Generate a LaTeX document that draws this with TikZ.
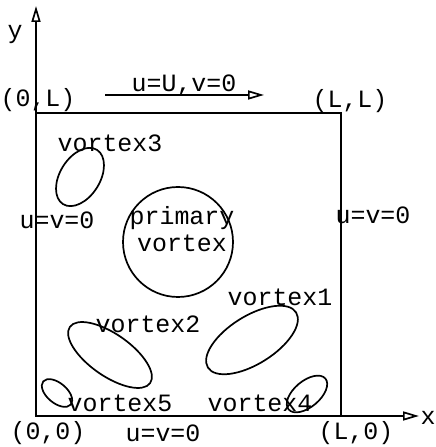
\documentclass[tikz,border=0pt]{standalone}
\usepackage{fontspec}
\setmainfont{Liberation Mono}
\usepackage{tikz}
\usetikzlibrary{arrows.meta}
\usetikzlibrary{positioning}
\tikzset{
    plotline/.style={line width=1.7bp, black},
    openarrow/.style={-{Triangle[open, length=16bp, width=9bp]}},
    plotlabel/.style={inner sep=0pt, font=\fontsize{25}{27}\selectfont},
}

\begin{document}
\begin{tikzpicture}[x=1bp, y=1bp]
        \useasboundingbox (0,0) rectangle (436,447);
        \coordinate (origin) at (36,31);
        \coordinate (topright) at (341,334);
        \coordinate (ytip) at (36,441);
        \coordinate (xtip) at (419,31);
        \coordinate (lidstart) at (105,352);
        \coordinate (lidend) at (264,352);

        % Cavity and axes
        \draw[plotline] (origin) rectangle (topright);
        \draw[plotline, openarrow] (origin) -- (ytip);
        \draw[plotline, openarrow] (origin) -- (xtip);
        \draw[plotline, openarrow] (lidstart) -- (lidend);

        % Vortices: center, radii, tilt
        \coordinate (primaryc) at (178,205);
        \coordinate (vortexAc) at (252,107);
        \coordinate (vortexBc) at (110,92);
        \coordinate (vortexCc) at (80,270);
        \coordinate (vortexDc) at (307,53);
        \coordinate (vortexEc) at (57,54);

        \draw[plotline] (primaryc) circle [radius=55];
        \draw[plotline] (vortexAc) ellipse [x radius=52, y radius=24, rotate=32];
        \draw[plotline] (vortexBc) ellipse [x radius=49, y radius=21, rotate=-35];
        \draw[plotline] (vortexCc) ellipse [x radius=32, y radius=20, rotate=58];
        \draw[plotline] (vortexDc) ellipse [x radius=24, y radius=13, rotate=40];
        \draw[plotline] (vortexEc) ellipse [x radius=18, y radius=10, rotate=-40];

        % Labels
        \node[plotlabel] (ylabel) at (15,412) {y};
        \node[plotlabel] (xlabel) at (428,29) {x};
        \node[plotlabel] (cornerTL) at (38,347) {(0,L)};
        \node[plotlabel] (cornerTR) at (350,346) {(L,L)};
        \node[plotlabel] (cornerBL) at (48,14) {(0,0)};
        \node[plotlabel] (cornerBR) at (356,14) {(L,0)};
        \node[plotlabel] (lidlabel) at (184,362) {u=U,v=0};
        \node[plotlabel] (leftwall) at (57,227) {u=v=0};
        \node[plotlabel] (rightwall) at (373,232) {u=v=0};
        \node[plotlabel] (bottomwall) at (163,14) {u=v=0};
        \node[plotlabel, align=center] (primarylabel) at (182,218) {primary\\vortex};
        \node[plotlabel] (vortexAlabel) at (280,150) {vortex1};
        \node[plotlabel] (vortexBlabel) at (148,123) {vortex2};
        \node[plotlabel] (vortexClabel) at (110,304) {vortex3};
        \node[plotlabel] (vortexDlabel) at (260,44) {vortex4};
        \node[plotlabel] (vortexElabel) at (120,44) {vortex5};
        \end{tikzpicture}
\end{document}
